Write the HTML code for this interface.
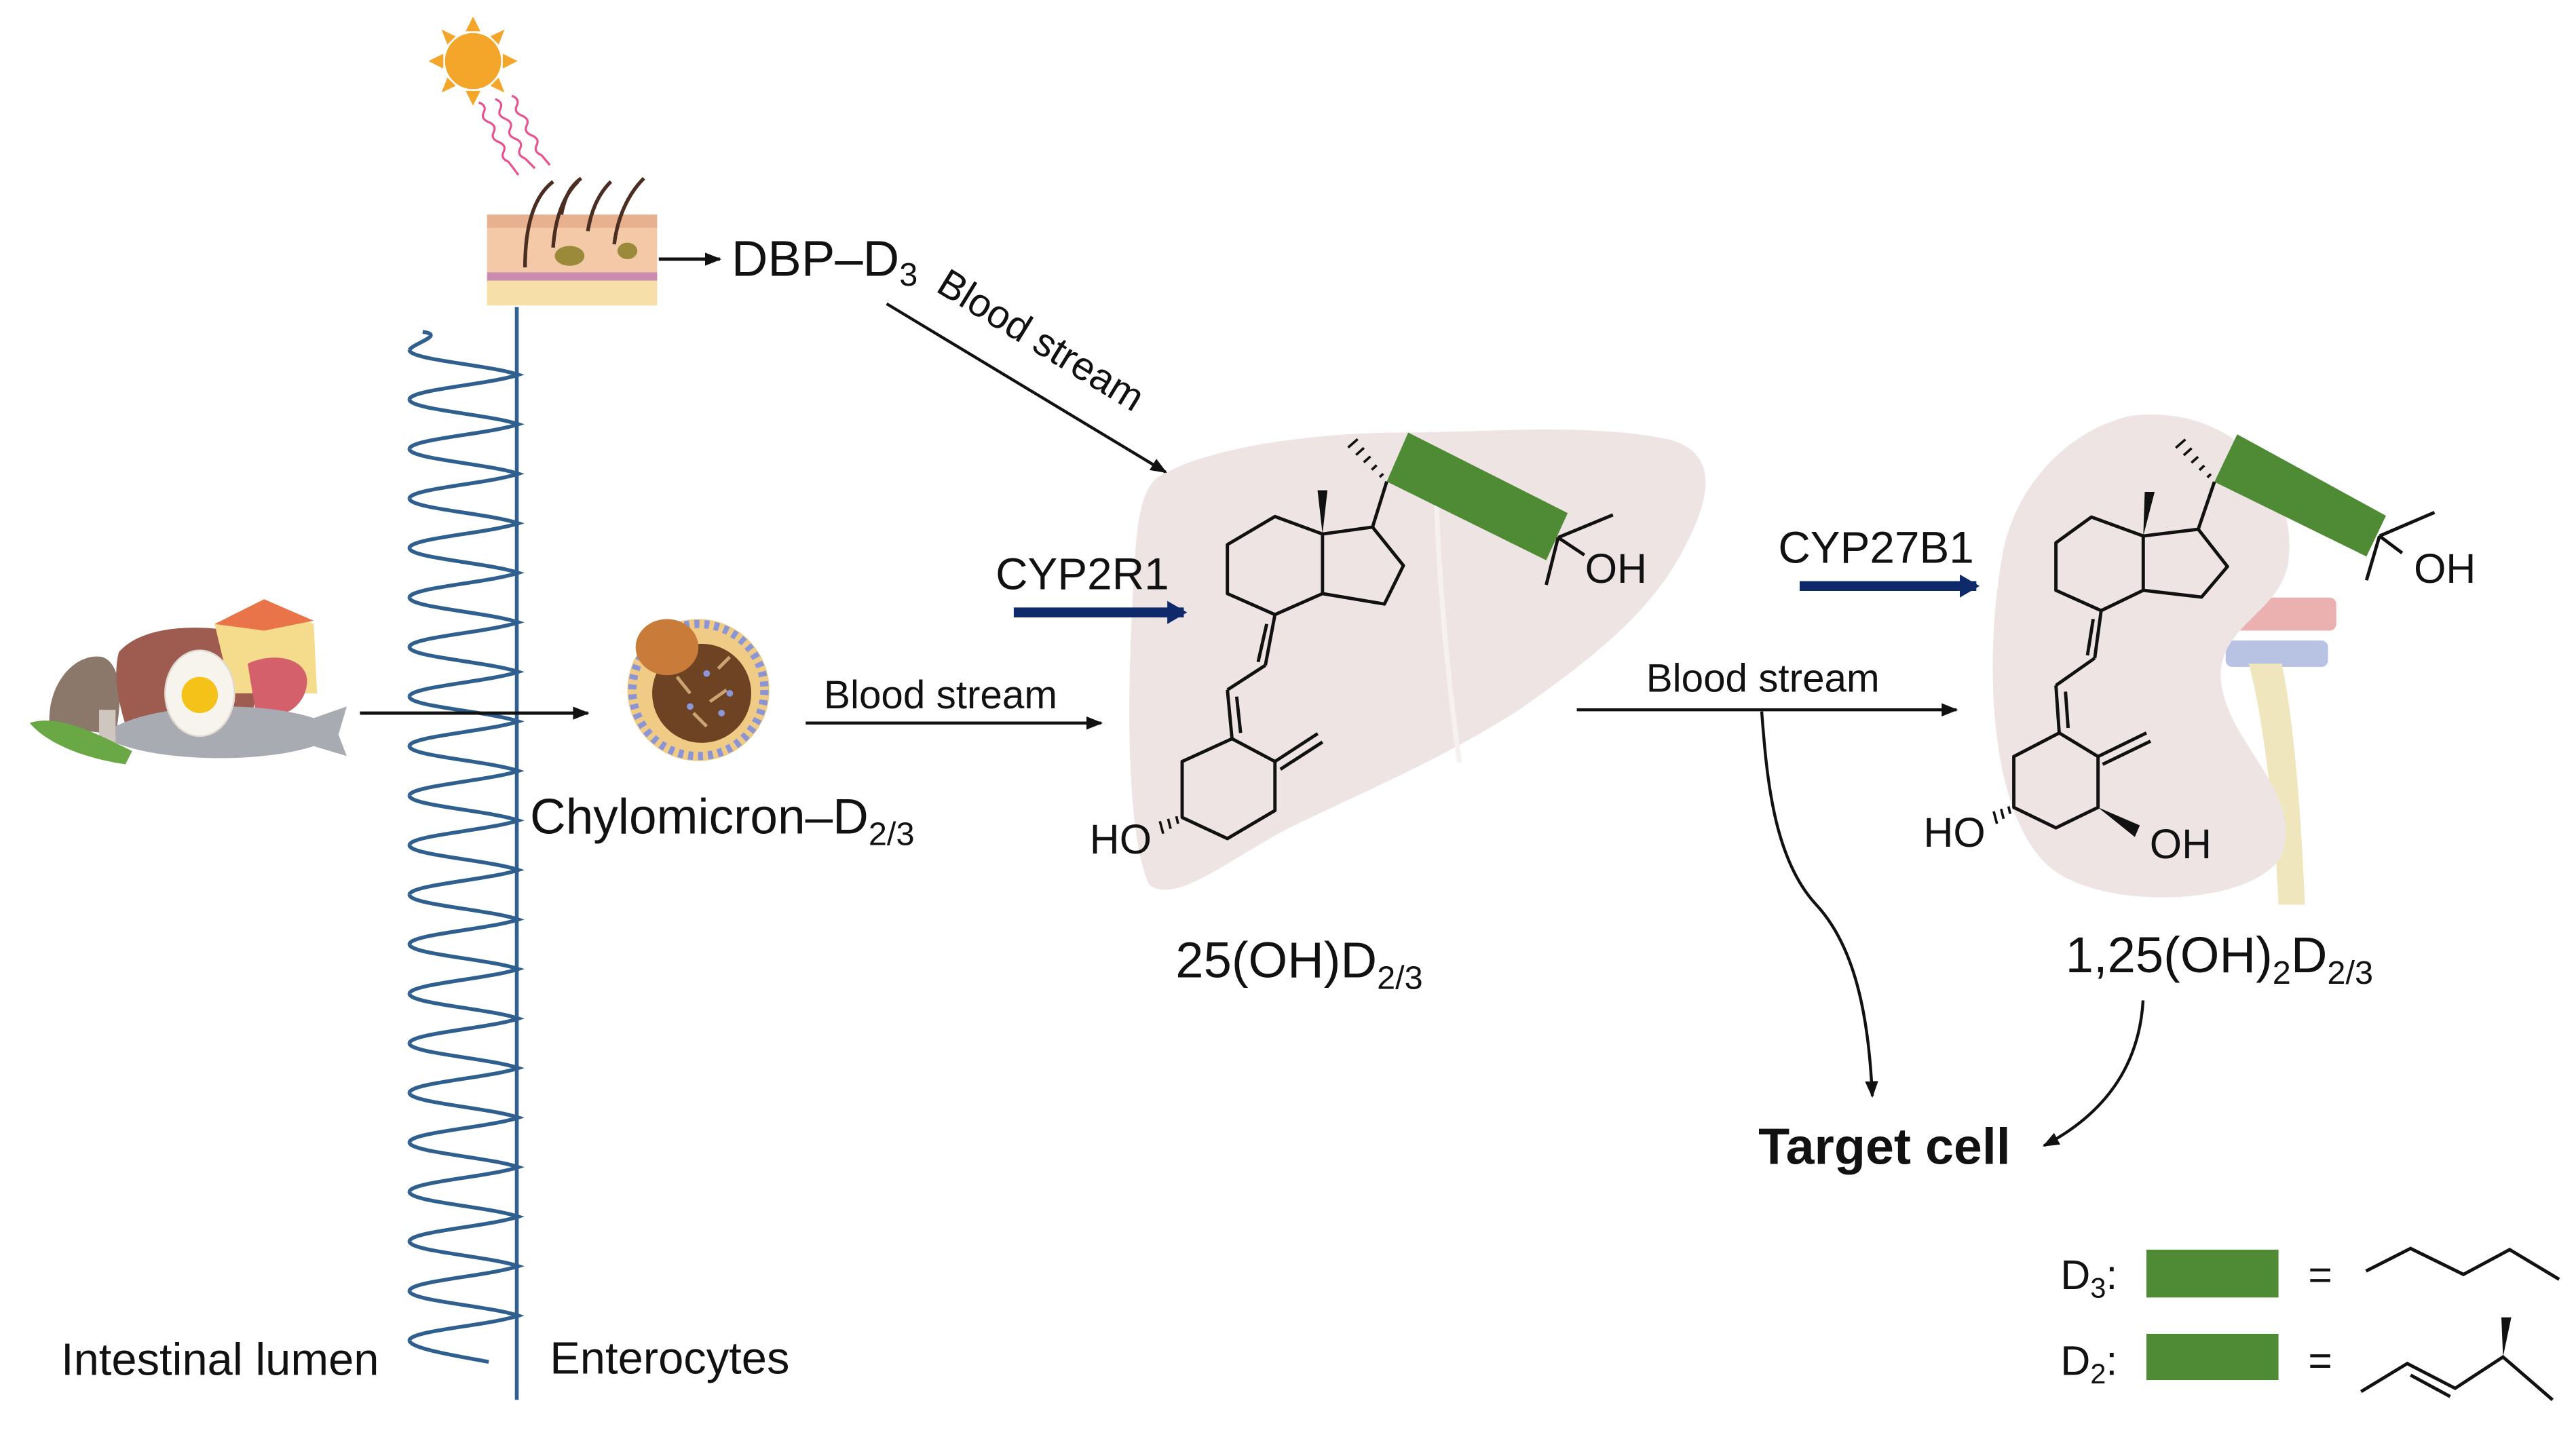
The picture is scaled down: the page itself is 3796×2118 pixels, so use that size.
<!DOCTYPE html>
<html><head><meta charset="utf-8"><style>
html,body{margin:0;padding:0;background:#fff;}
svg{display:block;}
text{font-family:"Liberation Sans",Arial,sans-serif;fill:#111;}
</style></head><body>
<svg width="3796" height="2118" viewBox="0 0 1560.2 870.5" preserveAspectRatio="none" xmlns="http://www.w3.org/2000/svg">
<defs>
<marker id="ah" markerWidth="10" markerHeight="8" refX="9" refY="4" orient="auto" markerUnits="userSpaceOnUse"><path d="M0,0 L10,4 L0,8 Z" fill="#111"/></marker>
<marker id="bh" markerWidth="12" markerHeight="14" refX="10" refY="7" orient="auto" markerUnits="userSpaceOnUse"><path d="M0,0 L12,7 L0,14 Z" fill="#0E2A6B"/></marker>
<path id="wv" d="M248 0 C248 6 296 9 314 15 C296 21 248 24 248 30" fill="none" stroke="#2F5F8E" stroke-width="2.3"/>
</defs>

<!-- Liver -->
<path d="M700 290 C730 270 800 262 850 262 C900 262 960 256 1010 266 C1042 274 1036 302 1020 332 C1000 372 960 402 920 430 C870 462 820 482 780 502 C742 522 712 548 696 536 C680 500 683 400 688 330 C690 306 694 296 700 290 Z" fill="#EDE4E3"/>
<path d="M870 305 C872 360 878 420 884 462" stroke="#F6F1F0" stroke-width="3" fill="none"/>

<!-- Kidney vessels -->
<rect x="1345" y="362" width="70" height="20" rx="4" fill="#EBB1B1"/>
<rect x="1348" y="388" width="62" height="16" rx="4" fill="#B8C2E2"/>
<path d="M1362 402 C1372 440 1378 500 1380 548 L1396 548 C1394 500 1390 440 1382 402 Z" fill="#F0E6BE"/>
<!-- Kidney -->
<path d="M1290 252 C1350 244 1392 290 1386 340 C1382 370 1346 378 1345 408 C1345 448 1396 478 1382 518 C1366 548 1280 552 1245 528 C1205 500 1200 400 1214 330 C1224 290 1255 260 1290 252 Z" fill="#EDE4E3"/>

<!-- Sun -->
<g fill="#F4A62A">
<circle cx="286.5" cy="37" r="17"/>
<polygon points="286.5,10 282,19 291,19"/><polygon points="286.5,64 282,55 291,55"/>
<polygon points="259.5,37 268.5,32.5 268.5,41.5"/><polygon points="313.5,37 304.5,32.5 304.5,41.5"/>
<polygon points="267.4,17.9 271,27 276,22"/><polygon points="305.6,17.9 297,22 302,27"/>
<polygon points="267.4,56.1 276,52 271,47"/><polygon points="305.6,56.1 302,47 297,52"/>
</g>
<g stroke="#E8508F" stroke-width="1.3" fill="none">
<path d="M290 62 q5 2 3 6 q-2 4 3 6 q5 2 3 6 q-2 4 3 6 q5 2 3 6 q-2 4 3 6 l6 8"/>
<path d="M300 60 q5 2 3 6 q-2 4 3 6 q5 2 3 6 q-2 4 3 6 q5 2 3 6 q-2 4 3 6 l6 6"/>
<path d="M310 58 q5 2 3 6 q-2 4 3 6 q5 2 3 6 q-2 4 3 6 q5 2 3 6 q-2 4 3 6 l5 6"/>
</g>
<!-- Skin -->
<rect x="295" y="130" width="103" height="55" fill="#F3C9A8"/>
<rect x="295" y="130" width="103" height="8" fill="#E7B08F"/>
<rect x="295" y="165" width="103" height="5" fill="#C98BB0"/>
<rect x="295" y="170" width="103" height="15" fill="#F6DFA8"/>
<ellipse cx="345" cy="155" rx="9" ry="6" fill="#9A8A3A"/>
<ellipse cx="380" cy="152" rx="6" ry="5" fill="#9A8A3A"/>
<g stroke="#4A2E22" stroke-width="2.2" fill="none">
<path d="M318 162 C318 140 322 120 335 110"/><path d="M335 150 C336 135 340 120 350 110"/>
<path d="M356 140 C358 128 362 118 370 110"/><path d="M372 148 C374 132 380 118 390 108"/>
<path d="M340 130 C342 120 345 113 352 108"/>
</g>

<!-- arrows top -->
<line x1="399" y1="157" x2="436" y2="157" stroke="#111" stroke-width="2" marker-end="url(#ah)"/>
<text x="443" y="167" font-size="30.5">DBP–D<tspan font-size="20" dy="6">3</tspan></text>
<line x1="537" y1="184" x2="706" y2="286" stroke="#111" stroke-width="1.8" marker-end="url(#ah)"/>
<text x="566" y="176" font-size="24" transform="rotate(31.5 566 176)">Blood stream</text>

<!-- villi wave -->
<g>
<use href="#wv" y="212"/><use href="#wv" y="242"/><use href="#wv" y="272"/><use href="#wv" y="302"/>
<use href="#wv" y="332"/><use href="#wv" y="362"/><use href="#wv" y="392"/><use href="#wv" y="422"/>
<use href="#wv" y="452"/><use href="#wv" y="482"/><use href="#wv" y="512"/><use href="#wv" y="542"/>
<use href="#wv" y="572"/><use href="#wv" y="602"/><use href="#wv" y="632"/><use href="#wv" y="662"/>
<use href="#wv" y="692"/><use href="#wv" y="722"/><use href="#wv" y="752"/><use href="#wv" y="782"/>
<path d="M256 201 C270 203 250 208 248 212" fill="none" stroke="#2F5F8E" stroke-width="2.3"/>
<path d="M248 812 C248 817 280 822 296 825" fill="none" stroke="#2F5F8E" stroke-width="2.3"/>
</g>
<line x1="313" y1="186" x2="313" y2="848" stroke="#2F5F8E" stroke-width="2.3"/>

<!-- food -->
<path d="M30 440 C28 415 45 395 62 398 C74 402 74 425 70 445 Z" fill="#8C776B"/>
<rect x="60" y="430" width="10" height="25" fill="#CFC7BF"/>
<path d="M72 395 C85 380 115 378 140 382 L150 380 C160 385 158 420 150 440 L80 450 C72 430 68 410 72 395 Z" fill="#9E5B50"/>
<path d="M130 378 L160 363 L190 378 L192 420 L140 420 Z" fill="#F5DB8C"/>
<path d="M130 378 L160 363 L190 376 L160 382 Z" fill="#E9744A"/>
<path d="M150 402 C165 395 185 398 186 412 C186 428 170 438 155 432 Z" fill="#D4606B"/>
<path d="M18 438 C35 432 60 445 80 455 L76 463 C55 460 30 452 18 438 Z" fill="#6AA745"/>
<path d="M70 440 C100 425 160 425 190 435 L210 428 L205 445 L210 458 L190 452 C160 462 100 462 70 450 Z" fill="#A8ABB1"/>
<ellipse cx="121" cy="420" rx="21" ry="26" fill="#F7F4EE" stroke="#E0DAD0" stroke-width="1"/>
<circle cx="121" cy="421" r="11" fill="#F5C21A"/>
<line x1="218" y1="432" x2="356" y2="432" stroke="#111" stroke-width="2" marker-end="url(#ah)"/>

<!-- chylomicron -->
<circle cx="423" cy="418" r="43" fill="#EFCB86"/>
<circle cx="423" cy="418" r="40" fill="none" stroke="#8B95D6" stroke-width="5" stroke-dasharray="3 3"/>
<circle cx="425" cy="420" r="30" fill="#6E4324"/>
<g stroke="#C9A574" stroke-width="2"><line x1="410" y1="410" x2="418" y2="420"/><line x1="430" y1="425" x2="440" y2="418"/><line x1="420" y1="432" x2="428" y2="440"/><line x1="435" y1="405" x2="442" y2="398"/></g>
<g fill="#8C96D8"><circle cx="418" cy="428" r="2"/><circle cx="437" cy="432" r="2"/><circle cx="428" cy="408" r="2"/><circle cx="442" cy="420" r="2"/></g>
<ellipse cx="404" cy="392" rx="19" ry="17" fill="#C97B3A"/>
<text x="321" y="505" font-size="30">Chylomicron–D<tspan font-size="20" dy="7">2/3</tspan></text>

<text x="499" y="429" font-size="24">Blood stream</text>
<line x1="488" y1="438" x2="667" y2="438" stroke="#111" stroke-width="1.8" marker-end="url(#ah)"/>

<text x="603" y="357" font-size="27">CYP2R1</text>
<line x1="614" y1="371" x2="717" y2="371" stroke="#0E2A6B" stroke-width="6" marker-end="url(#bh)"/>

<!-- Molecule 1 -->
<g stroke="#111" stroke-width="2" fill="none" stroke-linejoin="round">
<polygon points="839.9,291.7 852.9,262 949.5,310.8 936.5,339.4" fill="#4F8A34" stroke="none"/>
<polyline points="801,323.5 772.2,312.9 743.4,329.9 743.4,359.6 772.2,372.3 801,359.6 801,323.5 831.3,319.3 850,342.6 838.5,365.9 801,359.6"/>
<line x1="831.3" y1="319.3" x2="839.9" y2="291.7"/>
<line x1="772.2" y1="372.3" x2="766.4" y2="403"/><line x1="767.2" y1="378" x2="762" y2="401"/>
<line x1="766.4" y1="403" x2="743.4" y2="417.9"/>
<line x1="743.4" y1="417.9" x2="746.2" y2="447.5"/><line x1="749" y1="422" x2="751.4" y2="444"/>
<polygon points="746.2,447.5 772.2,461.3 772.2,491 743.4,508 716,495.2 716,461.3"/>
<line x1="772.2" y1="461.3" x2="798.1" y2="444.4"/><line x1="775.5" y1="466" x2="801" y2="449.5"/>
<line x1="943.7" y1="325.6" x2="976.9" y2="311.9"/><line x1="943.7" y1="325.6" x2="936.5" y2="354.3"/><line x1="943.7" y1="325.6" x2="959.6" y2="336.2"/>
<g stroke-width="1.5"><line x1="835.6" y1="289" x2="837.8" y2="287"/><line x1="830.8" y1="284.6" x2="833.8" y2="281.8"/><line x1="826" y1="280.1" x2="830" y2="276.5"/><line x1="821.3" y1="275.6" x2="826.1" y2="271.3"/><line x1="816.5" y1="271.1" x2="822.3" y2="266"/>
<line x1="712.5" y1="494.5" x2="713.5" y2="499"/><line x1="707.5" y1="496" x2="709" y2="502"/><line x1="702.5" y1="497.5" x2="704.5" y2="505"/></g>
</g>
<polygon points="801,323.5 798,297 804,297" fill="#111"/>
<text x="960" y="353" font-size="25">OH</text>
<text x="660" y="517" font-size="25">HO</text>
<text x="712" y="592" font-size="30.5">25(OH)D<tspan font-size="20" dy="7">2/3</tspan></text>

<!-- blood stream right -->
<text x="997" y="419" font-size="24">Blood stream</text>
<line x1="955" y1="430" x2="1185" y2="430" stroke="#111" stroke-width="1.8" marker-end="url(#ah)"/>
<path d="M1067 431 C1070 470 1074 520 1100 548 C1125 575 1132 620 1134 664" fill="none" stroke="#111" stroke-width="1.8" marker-end="url(#ah)"/>

<text x="1077" y="341" font-size="27">CYP27B1</text>
<line x1="1090" y1="355" x2="1197" y2="355" stroke="#0E2A6B" stroke-width="6" marker-end="url(#bh)"/>

<!-- Molecule 2 -->
<g stroke="#111" stroke-width="2" fill="none" stroke-linejoin="round">
<polygon points="1341.2,291.9 1355,263.1 1445.1,312.4 1433.3,337.1" fill="#4F8A34" stroke="none"/>
<polyline points="1298.1,324.7 1266.7,313.2 1245.2,328.8 1245.2,357.6 1272.6,369.9 1298.1,357.6 1298.1,324.7 1331.4,320.6 1349.1,343.2 1333.4,361.7 1298.1,357.6"/>
<line x1="1331.4" y1="320.6" x2="1341.2" y2="291.9"/>
<line x1="1272.6" y1="369.9" x2="1268.7" y2="398.7"/><line x1="1267.8" y1="375" x2="1264.3" y2="397"/>
<line x1="1268.7" y1="398.7" x2="1245.2" y2="415.2"/>
<line x1="1245.2" y1="415.2" x2="1247.2" y2="444"/><line x1="1251" y1="419" x2="1252.6" y2="441"/>
<polygon points="1247.2,444 1270.7,458.3 1270.7,489.1 1245.2,501.5 1219.7,489.1 1219.7,458.3"/>
<line x1="1270.7" y1="458.3" x2="1300" y2="444"/><line x1="1273.5" y1="463" x2="1302.5" y2="449"/>
<line x1="1441.2" y1="324.7" x2="1474.5" y2="310.4"/><line x1="1441.2" y1="324.7" x2="1433.3" y2="351.5"/><line x1="1441.2" y1="324.7" x2="1454.9" y2="335"/>
<g stroke-width="1.5" transform="translate(501.3,0.2)"><line x1="835.6" y1="289" x2="837.8" y2="287"/><line x1="830.8" y1="284.6" x2="833.8" y2="281.8"/><line x1="826" y1="280.1" x2="830" y2="276.5"/><line x1="821.3" y1="275.6" x2="826.1" y2="271.3"/><line x1="816.5" y1="271.1" x2="822.3" y2="266"/></g>
<g stroke-width="1.5"><line x1="1216.5" y1="488.5" x2="1217.5" y2="493"/><line x1="1212" y1="490" x2="1213.5" y2="496"/><line x1="1207.5" y1="491.5" x2="1209.5" y2="499"/></g>
</g>
<polygon points="1298.1,324.7 1299,298 1305,298" fill="#111"/>
<polygon points="1270.7,489.1 1296,500 1293,507" fill="#111"/>
<text x="1462" y="353" font-size="25">OH</text>
<text x="1165" y="513" font-size="25">HO</text>
<text x="1302" y="520" font-size="25">OH</text>
<text x="1251" y="589" font-size="30.5">1,25(OH)<tspan font-size="20" dy="7">2</tspan><tspan dy="-7">D</tspan><tspan font-size="20" dy="7">2/3</tspan></text>
<path d="M1298 606 C1296 640 1280 672 1238 694" fill="none" stroke="#111" stroke-width="1.8" marker-end="url(#ah)"/>

<text x="1065" y="705" font-size="31" font-weight="bold">Target cell</text>

<!-- Legend -->
<text x="1248" y="781" font-size="25">D<tspan font-size="17" dy="5">3</tspan><tspan dy="-5">:</tspan></text>
<rect x="1300" y="757" width="80" height="29" fill="#4F8A34"/>
<text x="1398" y="781" font-size="25">=</text>
<polyline points="1433,770 1460,756.3 1492,772 1520,757 1550,775" fill="none" stroke="#111" stroke-width="2"/>
<text x="1248" y="833" font-size="25">D<tspan font-size="17" dy="5">2</tspan><tspan dy="-5">:</tspan></text>
<rect x="1300" y="808" width="80" height="28" fill="#4F8A34"/>
<text x="1398" y="833" font-size="25">=</text>
<polyline points="1430,843 1458,826 1487,841 1516,822 1546,848" fill="none" stroke="#111" stroke-width="2"/>
<line x1="1460" y1="833" x2="1484" y2="846" stroke="#111" stroke-width="2"/>
<polygon points="1516,822 1515,798 1521,798" fill="#111"/>

<text x="37" y="833" font-size="27.5">Intestinal lumen</text>
<text x="333" y="832" font-size="27.5">Enterocytes</text>
</svg>
</body></html>
